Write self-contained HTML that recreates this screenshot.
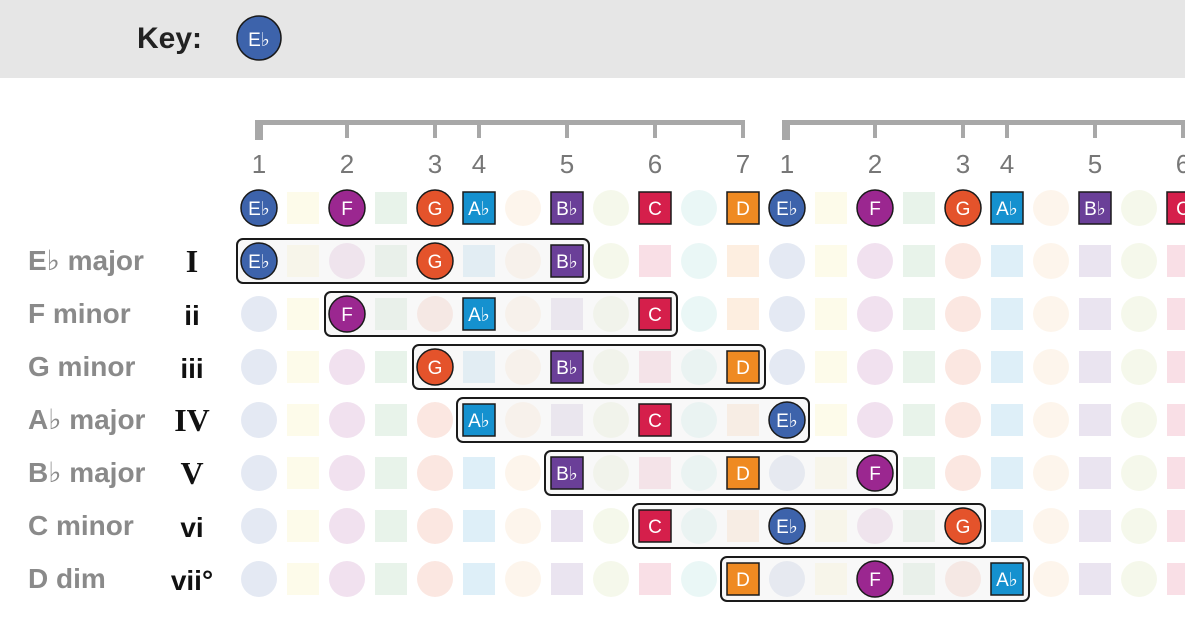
<!DOCTYPE html>
<html><head><meta charset="utf-8"><style>
html,body{margin:0;padding:0;background:#fff;width:1185px;height:641px;overflow:hidden}
svg{display:block}
.n{font-family:"Liberation Sans","DejaVu Sans",sans-serif;font-size:19px;fill:#fff;text-anchor:middle}
.lab{font-family:"Liberation Sans","DejaVu Sans",sans-serif;font-size:28px;font-weight:bold;fill:#8a8a8a}
.rn{font-family:"Liberation Sans",sans-serif;font-size:28px;font-weight:bold;fill:#111;text-anchor:middle}
.rs{font-family:"Liberation Serif",serif;font-size:32px;font-weight:bold;fill:#111;text-anchor:middle}
.deg{font-family:"Liberation Sans",sans-serif;font-size:26px;fill:#777;text-anchor:middle}
</style></head><body>
<svg id="s" width="1185" height="641" viewBox="0 0 1185 641" xmlns="http://www.w3.org/2000/svg">
<rect x="0" y="0" width="1185" height="78" fill="#e6e6e6"/>
<text x="137" y="48" font-family="Liberation Sans, sans-serif" font-size="30" font-weight="bold" fill="#222">Key:</text>
<circle cx="259" cy="38" r="22" fill="#3d63ab" stroke="#1a1a1a" stroke-width="1.5"/>
<text class="n" x="259" y="46" font-size="21">E♭</text>
<g id="grid"></g>
<g id="boxes"></g>
<g fill="#a8a8a8">
<rect x="255" y="120" width="490" height="5"/><rect x="255" y="120" width="8" height="20"/>
<rect x="345" y="120" width="4" height="18"/><rect x="433" y="120" width="4" height="18"/><rect x="477" y="120" width="4" height="18"/><rect x="565" y="120" width="4" height="18"/><rect x="653" y="120" width="4" height="18"/><rect x="741" y="120" width="4" height="18"/>
<rect x="782" y="120" width="403" height="5"/><rect x="782" y="120" width="8" height="20"/>
<rect x="873" y="120" width="4" height="18"/><rect x="961" y="120" width="4" height="18"/><rect x="1005" y="120" width="4" height="18"/><rect x="1093" y="120" width="4" height="18"/><rect x="1181" y="120" width="4" height="18"/>
</g>
<text class="deg" x="259" y="173">1</text><text class="deg" x="347" y="173">2</text><text class="deg" x="435" y="173">3</text><text class="deg" x="479" y="173">4</text><text class="deg" x="567" y="173">5</text><text class="deg" x="655" y="173">6</text><text class="deg" x="743" y="173">7</text>
<text class="deg" x="787" y="173">1</text><text class="deg" x="875" y="173">2</text><text class="deg" x="963" y="173">3</text><text class="deg" x="1007" y="173">4</text><text class="deg" x="1095" y="173">5</text><text class="deg" x="1183" y="173">6</text>

<text class="lab" x="28" y="270">E♭ major</text><text class="rs" x="192" y="272">I</text>
<text class="lab" x="28" y="323">F minor</text><text class="rn" x="192" y="325">ii</text>
<text class="lab" x="28" y="376">G minor</text><text class="rn" x="192" y="378">iii</text>
<text class="lab" x="28" y="429">A♭ major</text><text class="rs" x="192" y="431">IV</text>
<text class="lab" x="28" y="482">B♭ major</text><text class="rs" x="192" y="484">V</text>
<text class="lab" x="28" y="535">C minor</text><text class="rn" x="192" y="537">vi</text>
<text class="lab" x="28" y="588">D dim</text><text class="rn" x="192" y="590">vii°</text>

<g id="notes" stroke="#1a1a1a" stroke-width="1.5">
<circle cx="259" cy="208" r="18" fill="#3d63ab"/><circle cx="347" cy="208" r="18" fill="#9b2790"/><circle cx="435" cy="208" r="18" fill="#e4532b"/>
<rect x="463" y="192" width="32" height="32" fill="#1591cf"/><rect x="551" y="192" width="32" height="32" fill="#6a3f98"/><rect x="639" y="192" width="32" height="32" fill="#d51f4b"/><rect x="727" y="192" width="32" height="32" fill="#ef8a22"/>
<circle cx="787" cy="208" r="18" fill="#3d63ab"/><circle cx="875" cy="208" r="18" fill="#9b2790"/><circle cx="963" cy="208" r="18" fill="#e4532b"/>
<rect x="991" y="192" width="32" height="32" fill="#1591cf"/><rect x="1079" y="192" width="32" height="32" fill="#6a3f98"/><rect x="1167" y="192" width="32" height="32" fill="#d51f4b"/>
<circle cx="259" cy="261" r="18" fill="#3d63ab"/><circle cx="435" cy="261" r="18" fill="#e4532b"/><rect x="551" y="245" width="32" height="32" fill="#6a3f98"/>
<circle cx="347" cy="314" r="18" fill="#9b2790"/><rect x="463" y="298" width="32" height="32" fill="#1591cf"/><rect x="639" y="298" width="32" height="32" fill="#d51f4b"/>
<circle cx="435" cy="367" r="18" fill="#e4532b"/><rect x="551" y="351" width="32" height="32" fill="#6a3f98"/><rect x="727" y="351" width="32" height="32" fill="#ef8a22"/>
<rect x="463" y="404" width="32" height="32" fill="#1591cf"/><rect x="639" y="404" width="32" height="32" fill="#d51f4b"/><circle cx="787" cy="420" r="18" fill="#3d63ab"/>
<rect x="551" y="457" width="32" height="32" fill="#6a3f98"/><rect x="727" y="457" width="32" height="32" fill="#ef8a22"/><circle cx="875" cy="473" r="18" fill="#9b2790"/>
<rect x="639" y="510" width="32" height="32" fill="#d51f4b"/><circle cx="787" cy="526" r="18" fill="#3d63ab"/><circle cx="963" cy="526" r="18" fill="#e4532b"/>
<rect x="727" y="563" width="32" height="32" fill="#ef8a22"/><circle cx="875" cy="579" r="18" fill="#9b2790"/><rect x="991" y="563" width="32" height="32" fill="#1591cf"/>
</g>
<g>
<text class="n" x="259" y="215">E♭</text><text class="n" x="347" y="215">F</text><text class="n" x="435" y="215">G</text><text class="n" x="479" y="215">A♭</text><text class="n" x="567" y="215">B♭</text><text class="n" x="655" y="215">C</text><text class="n" x="743" y="215">D</text>
<text class="n" x="787" y="215">E♭</text><text class="n" x="875" y="215">F</text><text class="n" x="963" y="215">G</text><text class="n" x="1007" y="215">A♭</text><text class="n" x="1095" y="215">B♭</text><text class="n" x="1183" y="215">C</text>
<text class="n" x="259" y="268">E♭</text><text class="n" x="435" y="268">G</text><text class="n" x="567" y="268">B♭</text>
<text class="n" x="347" y="321">F</text><text class="n" x="479" y="321">A♭</text><text class="n" x="655" y="321">C</text>
<text class="n" x="435" y="374">G</text><text class="n" x="567" y="374">B♭</text><text class="n" x="743" y="374">D</text>
<text class="n" x="479" y="427">A♭</text><text class="n" x="655" y="427">C</text><text class="n" x="787" y="427">E♭</text>
<text class="n" x="567" y="480">B♭</text><text class="n" x="743" y="480">D</text><text class="n" x="875" y="480">F</text>
<text class="n" x="655" y="533">C</text><text class="n" x="787" y="533">E♭</text><text class="n" x="963" y="533">G</text>
<text class="n" x="743" y="586">D</text><text class="n" x="875" y="586">F</text><text class="n" x="1007" y="586">A♭</text>
</g>
</svg>
<script>
var NS="http://www.w3.org/2000/svg";
var cols=["#3d63ab","#f3e66a","#9b2790","#5aa86a","#e4532b","#1591cf","#f0b878","#6a3f98","#b8d070","#d51f4b","#6cc6c0","#ef8a22"];
var g=document.getElementById("grid"),b=document.getElementById("boxes");
var ys=[208,261,314,367,420,473,526,579];
ys.forEach(function(y){
 for(var i=0;i<22;i++){
  var x=259+44*i,c=cols[i%12],e;
  if(i%2==0){e=document.createElementNS(NS,"circle");e.setAttribute("cx",x);e.setAttribute("cy",y);e.setAttribute("r",18);}
  else{e=document.createElementNS(NS,"rect");e.setAttribute("x",x-16);e.setAttribute("y",y-16);e.setAttribute("width",32);e.setAttribute("height",32);}
  e.setAttribute("fill",c);e.setAttribute("fill-opacity","0.14");g.appendChild(e);
 }
});
[[0,7],[2,9],[4,11],[5,12],[7,14],[9,16],[11,17]].forEach(function(p,k){
 var r=document.createElementNS(NS,"rect"),y=ys[k+1];
 r.setAttribute("x",259+44*p[0]-22);r.setAttribute("y",y-22);
 r.setAttribute("width",44*(p[1]-p[0])+44);r.setAttribute("height",44);
 r.setAttribute("rx",6);r.setAttribute("fill","rgba(235,235,235,0.35)");
 r.setAttribute("stroke","#1a1a1a");r.setAttribute("stroke-width","2");b.appendChild(r);
});
</script>
</body></html>
